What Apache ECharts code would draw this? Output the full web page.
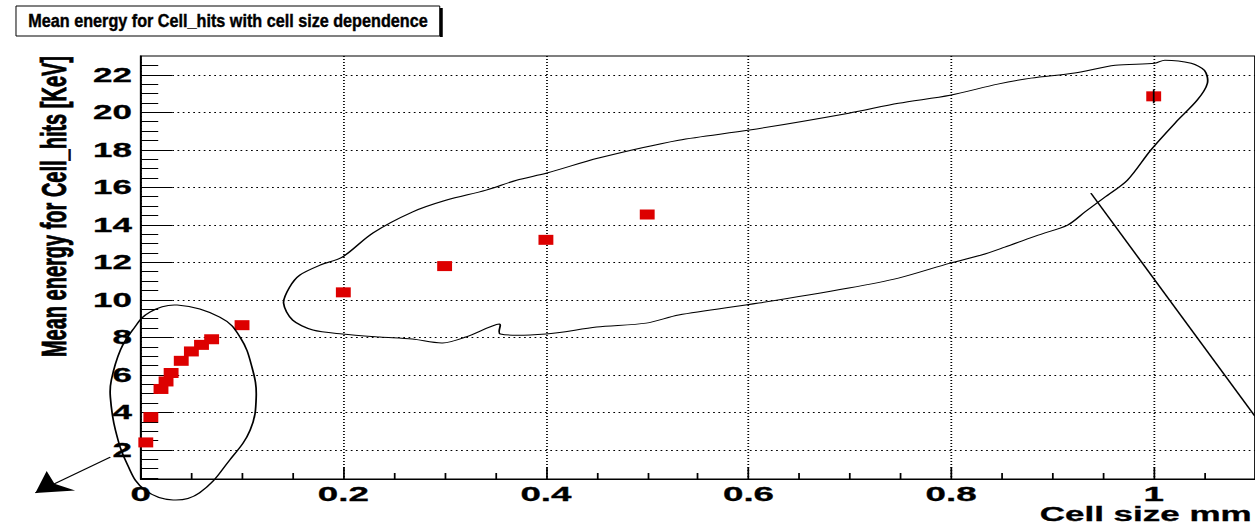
<!DOCTYPE html>
<html><head><meta charset="utf-8">
<script src="https://cdn.jsdelivr.net/npm/echarts@6/dist/echarts.min.js"></script>
<style>
html,body{margin:0;padding:0;background:#fff;overflow:hidden;}
#wrap{width:1255px;height:528px;overflow:hidden;position:relative;background:#fff;}
#chart{width:717px;height:528px;transform:scaleX(1.75035);transform-origin:0 0;}
</style></head><body><div id="wrap"><div id="chart"></div></div>
<script>
// ---- data ----
const cellSize   = [0.005, 0.01, 0.02, 0.025, 0.03, 0.04, 0.05, 0.06, 0.07, 0.1, 0.2, 0.3, 0.4, 0.5, 1.0];
const meanEnergy = [2.4, 3.75, 5.25, 5.65, 6.1, 6.75, 7.25, 7.6, 7.9, 8.65, 10.4, 11.8, 13.2, 14.55, 20.85];
const energyErr  = [0, 0, 0, 0, 0, 0, 0, 0, 0, 0, 0, 0, 0, 0, 0.37];
const xTicks = [0, 0.2, 0.4, 0.6, 0.8, 1];
const yTicks = [2, 4, 6, 8, 10, 12, 14, 16, 18, 20, 22];
const titleText = 'Mean energy for Cell_hits with cell size dependence';
const xName = 'Cell size mm';
const yName = 'Mean energy for Cell_hits [KeV]';
// hand-drawn annotations (in data units)
const smallLoop = [[0.036,9.72],[0.009,9.35],[-0.008,8.39],[-0.020,7.33],[-0.029,5.73],[-0.030,4.82],[-0.025,3.06],[-0.013,1.20],[0.004,-0.13],[0.032,-0.67],[0.058,-0.29],[0.088,1.47],[0.108,3.06],[0.114,4.82],[0.110,6.37],[0.098,8.02],[0.078,9.08]];
const bigLoop = [[0.141,9.83],[0.147,10.68],[0.157,11.32],[0.177,11.85],[0.199,12.28],[0.229,13.56],[0.268,14.68],[0.302,15.32],[0.341,15.85],[0.371,16.38],[0.401,16.76],[0.452,17.56],[0.531,18.51],[0.601,19.05],[0.699,19.95],[0.748,20.48],[0.799,20.91],[0.846,21.50],[0.879,21.82],[0.922,22.09],[0.962,22.51],[1.001,22.61],[1.011,22.78],[1.037,22.61],[1.050,22.24],[1.053,21.55],[1.043,20.65],[1.021,19.42],[0.997,17.98],[0.974,16.38],[0.952,15.48],[0.932,14.68],[0.915,13.99],[0.886,13.45],[0.853,12.81],[0.830,12.39],[0.799,11.96],[0.748,11.16],[0.699,10.63],[0.610,9.83],[0.531,9.19],[0.499,8.76],[0.450,8.55],[0.400,8.18],[0.355,8.18],[0.354,8.71],[0.321,8.02],[0.298,7.70],[0.268,7.91],[0.236,8.02],[0.199,8.18],[0.170,8.39],[0.150,8.92]];
const pointerLine = [[0.938,15.69],[1.1,3.79]];
const arrowLine = [[-0.030,1.62],[-0.104,-0.29]];

const SX = 1.75035;
const FONT = '"Liberation Sans", Arial, Helvetica, sans-serif';
const chart = echarts.init(document.getElementById('chart'), null, {renderer: 'svg'});

function loopSeries(name, pts, smooth) {
  return {
    type: 'custom', name: name, clip: false, silent: true, z: 7,
    data: [pts[0]], encode: {x: 0, y: 1},
    renderItem: function (params, api) {
      return {type: 'polygon', shape: {points: pts.map(p => api.coord(p)), smooth: smooth},
              style: {fill: 'none', stroke: '#000', lineWidth: 1}};
    }
  };
}

const option = {
  animation: false,
  backgroundColor: '#fff',
  grid: {left: 80.4, top: 56, width: 638.1, height: 423, show: true, borderColor: '#000', borderWidth: 1, backgroundColor: 'transparent'},
  xAxis: {
    type: 'value', min: 0, max: 1.1, interval: 0.2,
    axisLine: {show: true, onZero: false, lineStyle: {color: '#000', width: 1}},
    axisTick: {show: true, inside: true, length: 12, customValues: xTicks, lineStyle: {color: '#000', width: 1}},
    minorTick: {show: true, splitNumber: 4, length: 6, lineStyle: {color: '#000', width: 1}},
    axisLabel: {customValues: xTicks, margin: 4, color: '#000', fontFamily: FONT, fontWeight: 'bold', fontSize: 21,
                textBorderColor: '#000', textBorderWidth: 0.3},
    splitLine: {show: true, lineStyle: {color: '#000', type: [1, 2], width: 1}},
    minorSplitLine: {show: false}
  },
  yAxis: {
    type: 'value', min: 0.45, max: 23, minInterval: 2, maxInterval: 2, splitNumber: 11,
    axisLine: {show: true, onZero: false, lineStyle: {color: '#000', width: 1}},
    axisTick: {show: true, inside: true, length: 18, customValues: yTicks, lineStyle: {color: '#000', width: 1}},
    minorTick: {show: true, splitNumber: 4, length: 10, lineStyle: {color: '#000', width: 1}},
    axisLabel: {customValues: yTicks, margin: 5, color: '#000', fontFamily: FONT, fontWeight: 'bold', fontSize: 20,
                textBorderColor: '#000', textBorderWidth: 0.3},
    splitLine: {show: true, lineStyle: {color: '#000', type: [1, 2], width: 1}},
    minorSplitLine: {show: false}
  },
  graphic: [
    {type: 'group', x: 0, y: 0, scaleX: 1 / SX, z: 10, children: [
      {type: 'rect', shape: {x: 16, y: 6, width: 424, height: 30}, style: {fill: '#fff', stroke: '#000', lineWidth: 1}},
      {type: 'rect', shape: {x: 440, y: 8, width: 3, height: 29}, style: {fill: '#000'}},
      {type: 'text', x: 228, y: 21, scaleX: 0.9,
       style: {text: titleText, font: 'bold 18px ' + FONT, fill: '#000', stroke: '#000', lineWidth: 0.4,
               align: 'center', textAlign: 'center', verticalAlign: 'middle', textVerticalAlign: 'middle'}}
    ]},
    {type: 'text', x: 30.6, y: 56, rotation: Math.PI / 2, z: 10,
     style: {text: yName, font: 'bold 20px ' + FONT, fill: '#000', stroke: '#000', lineWidth: 0.5,
             align: 'right', textAlign: 'right', verticalAlign: 'middle', textVerticalAlign: 'middle'}},
    {type: 'text', x: 594, y: 504, z: 10,
     style: {text: xName, font: 'bold 20px ' + FONT, fill: '#000', stroke: '#000', lineWidth: 0.3,
             align: 'left', textAlign: 'left', verticalAlign: 'top', textVerticalAlign: 'top'}}
  ],
  series: [
    {
      type: 'scatter', name: 'mean', z: 5,
      data: cellSize.map((x, i) => [x, meanEnergy[i]]),
      symbol: 'rect', symbolSize: [8.5, 10],
      itemStyle: {color: '#dd0000', opacity: 1}
    },
    {
      type: 'custom', name: 'err', z: 6,
      data: cellSize.map((x, i) => [x, meanEnergy[i], energyErr[i]]).filter(d => d[2] > 0),
      encode: {x: 0, y: 1},
      renderItem: function (params, api) {
        const x = api.value(0), y = api.value(1), e = api.value(2);
        const a = api.coord([x, y - e]), b = api.coord([x, y + e]);
        return {type: 'line', shape: {x1: a[0], y1: a[1], x2: b[0], y2: b[1]}, style: {stroke: '#000', lineWidth: 1}};
      }
    },
    loopSeries('loop1', smallLoop, 0.4),
    loopSeries('loop2', bigLoop, 0.3),
    {type: 'lines', name: 'pointer', coordinateSystem: 'cartesian2d', clip: false, silent: true, z: 7,
     symbol: ['none', 'none'], lineStyle: {color: '#000', width: 1, opacity: 1},
     data: [{coords: pointerLine}]},
    {type: 'lines', name: 'arrow', coordinateSystem: 'cartesian2d', clip: false, silent: true, z: 7,
     symbol: ['none', 'arrow'], symbolSize: 19,
     lineStyle: {color: '#000', width: 1, opacity: 1},
     data: [{coords: arrowLine}]}
  ]
};
chart.setOption(option);
</script></body></html>
